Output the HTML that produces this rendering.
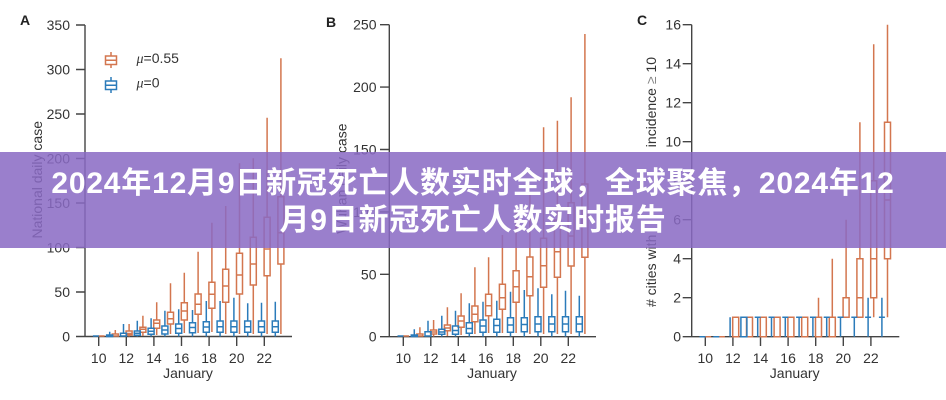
<!DOCTYPE html>
<html><head><meta charset="utf-8">
<style>
html,body{margin:0;padding:0;background:#fff;}
#wrap{position:relative;width:946px;height:400px;overflow:hidden;background:#fff;}
svg{position:absolute;left:0;top:0;}
#banner{position:absolute;left:0;top:152px;width:946px;height:96px;box-sizing:border-box;padding-top:4px;background:rgba(137,106,196,0.86);display:flex;flex-direction:column;align-items:center;justify-content:center;}
#banner div{font-family:"Liberation Sans","Noto Sans CJK SC",sans-serif;font-weight:bold;color:#fff;font-size:30px;line-height:37px;letter-spacing:0.8px;white-space:nowrap;}
</style></head><body>
<div id="wrap">
<svg width="946" height="400" viewBox="0 0 946 400" xmlns="http://www.w3.org/2000/svg" font-family="Liberation Sans, Arial, sans-serif">
<g font-weight="bold" font-size="14" fill="#222">
<text x="20" y="25">A</text>
<text x="326" y="27">B</text>
<text x="637" y="25">C</text>
</g>

<g stroke="#444" stroke-width="1.4" fill="none">
<path d="M85 25V336.5M76 336.5H292"/>
<path d="M76 25H85M76 69.5H85M76 114H85M76 158.5H85M76 203H85M76 247.5H85M76 292H85"/>
<path d="M98.7 336.5V346M126.3 336.5V346M153.9 336.5V346M181.5 336.5V346M209.1 336.5V346M236.7 336.5V346M264.3 336.5V346"/>
<path d="M389.3 24.7V336.7M380 336.7H596"/>
<path d="M380 24.7H389.3M380 87.1H389.3M380 149.5H389.3M380 211.9H389.3M380 274.3H389.3"/>
<path d="M403.3 336.7V346M430.8 336.7V346M458.3 336.7V346M485.8 336.7V346M513.3 336.7V346M540.8 336.7V346M568.3 336.7V346"/>
<path d="M691.7 24.7V336.7M682.7 336.7H899.3"/>
<path d="M682.7 24.7H691.7M682.7 63.7H691.7M682.7 102.7H691.7M682.7 141.7H691.7M682.7 180.7H691.7M682.7 219.7H691.7M682.7 258.7H691.7M682.7 297.7H691.7"/>
<path d="M705.3 336.7V346M732.9 336.7V346M760.5 336.7V346M788.1 336.7V346M815.7 336.7V346M843.3 336.7V346M870.9 336.7V346"/>
</g>

<g font-size="14" fill="#333" text-anchor="end">
<text x="70" y="30">350</text><text x="70" y="74.5">300</text><text x="70" y="119">250</text><text x="70" y="163.5">200</text><text x="70" y="208">150</text><text x="70" y="252.5">100</text><text x="70" y="297">50</text><text x="70" y="341.5">0</text>
<text x="376.5" y="29.7">250</text><text x="376.5" y="92.1">200</text><text x="376.5" y="154.5">150</text><text x="376.5" y="216.9">100</text><text x="376.5" y="279.3">50</text><text x="376.5" y="341.7">0</text>
<text x="681" y="29.7">16</text><text x="681" y="68.7">14</text><text x="681" y="107.7">12</text><text x="681" y="146.7">10</text><text x="681" y="185.7">8</text><text x="681" y="224.7">6</text><text x="681" y="263.7">4</text><text x="681" y="302.7">2</text><text x="681" y="341.7">0</text>
</g>
<g font-size="14" fill="#333" text-anchor="middle">
<text x="98.7" y="363">10</text><text x="126.3" y="363">12</text><text x="153.9" y="363">14</text><text x="181.5" y="363">16</text><text x="209.1" y="363">18</text><text x="236.7" y="363">20</text><text x="264.3" y="363">22</text>
<text x="403.3" y="363">10</text><text x="430.8" y="363">12</text><text x="458.3" y="363">14</text><text x="485.8" y="363">16</text><text x="513.3" y="363">18</text><text x="540.8" y="363">20</text><text x="568.3" y="363">22</text>
<text x="705.3" y="363">10</text><text x="732.9" y="363">12</text><text x="760.5" y="363">14</text><text x="788.1" y="363">16</text><text x="815.7" y="363">18</text><text x="843.3" y="363">20</text><text x="870.9" y="363">22</text>
<text x="188" y="378">January</text>
<text x="492" y="378">January</text>
<text x="794.7" y="378">January</text>
</g>

<g font-size="14" fill="#333">
<text transform="translate(42,121) rotate(-90)" text-anchor="end">National daily case</text>
<text transform="translate(346.7,123.5) rotate(-90)" text-anchor="end">Wuhan daily case</text>
<text transform="translate(656,307) rotate(-90)" text-anchor="start"># cities with</text>
<text transform="translate(656,57) rotate(-90)" text-anchor="end">incidence <tspan fill="#888">≥</tspan> 10</text>
</g>

<g fill="none" stroke-width="1.5">
<path stroke="#d3764f" d="M111 52V56M111 64.5V68M105.5 56H116.5V64.5H105.5ZM105.5 60.3H116.5"/>
<path stroke="#2b7bba" d="M111 77V81M111 89.5V93M105.5 81H116.5V89.5H105.5ZM105.5 85.3H116.5"/>
</g>
<g font-size="14" fill="#333">
<text x="136.5" y="63"><tspan font-style="italic" font-family="Liberation Serif, serif">μ</tspan>=0.55</text>
<text x="136.5" y="87.5"><tspan font-style="italic" font-family="Liberation Serif, serif">μ</tspan>=0</text>
</g>

<path fill="none" stroke="#d3764f" stroke-width="1.5" d="M98.5 336H104.5
M115.3 330V334M112.3 334H118.3V336H112.3Z
M129.1 324V331M126.1 331H132.1V335H126.1ZM126.1 333.5H132.1M129.1 335V336.5
M142.9 315.7V327.3M139.9 327.3H145.9V332.3H139.9ZM139.9 329.3H145.9M142.9 332.3V336
M156.7 302.3V320M153.7 320H159.7V328.3H153.7ZM153.7 323.3H159.7M156.7 328.3V335
M170.5 283.3V312.3M167.5 312.3H173.5V324H167.5ZM167.5 318.7H173.5M170.5 324V334
M184.3 272.7V302.7M181.3 302.7H187.3V320H181.3ZM181.3 311H187.3M184.3 320V333
M198.1 251.7V294M195.1 294H201.1V314.3H195.1ZM195.1 304.3H201.1M198.1 314.3V333
M211.9 222.7V282.3M208.9 282.3H214.9V308.3H208.9ZM208.9 294.3H214.9M211.9 308.3V332
M225.7 206V269.3M222.7 269.3H228.7V302.3H222.7ZM222.7 286H228.7M225.7 302.3V334
M239.5 163.3V253.3M236.5 253.3H242.5V294H236.5ZM236.5 275H242.5M239.5 294V334
M253.3 158.3V237.3M250.3 237.3H256.3V285H250.3ZM250.3 264H256.3M253.3 285V334
M267.1 117.7V217.3M264.1 217.3H270.1V275.7H264.1ZM264.1 249H270.1M267.1 275.7V334
M280.9 58.3V196.7M277.9 196.7H283.9V264H277.9ZM277.9 232.7H283.9M280.9 264V334"/>

<path fill="none" stroke="#2b7bba" stroke-width="1.5" d="M92.9 336H98.9
M109.7 331.7V335M106.7 335H112.7V336.5H106.7Z
M123.5 324V333.3M120.5 333.3H126.5V336H120.5Z
M137.3 320.7V331M134.3 331H140.3V335.3H134.3ZM134.3 333.3H140.3M137.3 335.3V336.5
M151.1 318.3V328.3M148.1 328.3H154.1V334.3H148.1ZM148.1 331.3H154.1M151.1 334.3V336.5
M164.9 310.7V326M161.9 326H167.9V334H161.9ZM161.9 330H167.9M164.9 334V336.5
M178.7 309.3V324M175.7 324H181.7V333.3H175.7ZM175.7 328.5H181.7M178.7 333.3V336.5
M192.5 310V322.7M189.5 322.7H195.5V332.7H189.5ZM189.5 327.5H195.5M192.5 332.7V336.5
M206.3 301V321.7M203.3 321.7H209.3V332.3H203.3ZM203.3 327H209.3M206.3 332.3V336.5
M220.1 301V321M217.1 321H223.1V332.3H217.1ZM217.1 326.7H223.1M220.1 332.3V336.5
M233.9 297.7V321M230.9 321H236.9V332.3H230.9ZM230.9 326.7H236.9M233.9 332.3V336.5
M247.7 303.3V321M244.7 321H250.7V332.3H244.7ZM244.7 326.7H250.7M247.7 332.3V336.5
M261.5 302.7V321M258.5 321H264.5V332.3H258.5ZM258.5 326.7H264.5M261.5 332.3V336.5
M275.3 301.7V321M272.3 321H278.3V332.3H272.3ZM272.3 326.7H278.3M275.3 332.3V336.5"/>

<path fill="none" stroke="#d3764f" stroke-width="1.5" d="M403.1 336H409.1
M419.9 327.3V334M416.9 334H422.9V336H416.9Z
M433.6 320V330M430.6 330H436.6V334H430.6ZM430.6 332H436.6M433.6 334V336.5
M447.4 307.3V325M444.4 325H450.4V330.7H444.4ZM444.4 328H450.4M447.4 330.7V336
M461.1 293.3V316M458.1 316H464.1V327.3H458.1ZM458.1 321H464.1M461.1 327.3V335
M474.9 267.3V306M471.9 306H477.9V321.7H471.9ZM471.9 314.3H477.9M474.9 321.7V334
M488.6 257.3V294.3M485.6 294.3H491.6V315.7H485.6ZM485.6 305.7H491.6M488.6 315.7V333
M502.4 235V284.3M499.4 284.3H505.4V309.3H499.4ZM499.4 297.7H505.4M502.4 309.3V333
M516.1 210V270.7M513.1 270.7H519.1V302.3H513.1ZM513.1 286.7H519.1M516.1 302.3V333
M529.9 195V257M526.9 257H532.9V295.7H526.9ZM526.9 276.7H532.9M529.9 295.7V334
M543.6 127.3V238.3M540.6 238.3H546.6V287.3H540.6ZM540.6 265.7H546.6M543.6 287.3V334
M557.4 120.7V220M554.4 220H560.4V277.3H554.4ZM554.4 251.7H560.4M557.4 277.3V334
M571.1 97.3V202.7M568.1 202.7H574.1V266H568.1ZM568.1 236H574.1M571.1 266V334
M584.9 34V184M581.9 184H587.9V257.3H581.9ZM581.9 216.7H587.9M584.9 257.3V334"/>

<path fill="none" stroke="#2b7bba" stroke-width="1.5" d="M397.5 336H403.5
M414.3 329.3V335M411.3 335H417.3V336.5H411.3Z
M428 320.7V331.7M425 331.7H431V336H425Z
M441.8 315.7V329.3M438.8 329.3H444.8V334.3H438.8ZM438.8 332H444.8M441.8 334.3V336.5
M455.5 310.7V326M452.5 326H458.5V334.3H452.5ZM452.5 330.5H458.5M455.5 334.3V336.5
M469.3 303.3V322.7M466.3 322.7H472.3V333.3H466.3ZM466.3 328.5H472.3M469.3 333.3V336.5
M483 301.7V320M480 320H486V332.3H480ZM480 326H486M483 332.3V336.5
M496.8 300.7V319.3M493.8 319.3H499.8V332.3H493.8ZM493.8 325.5H499.8M496.8 332.3V336.5
M510.5 291.7V317.7M507.5 317.7H513.5V332.3H507.5ZM507.5 325H513.5M510.5 332.3V336.5
M524.3 290V317.7M521.3 317.7H527.3V331.7H521.3ZM521.3 324.5H527.3M524.3 331.7V336.5
M538 288.3V316.7M535 316.7H541V331.7H535ZM535 324H541M538 331.7V336.5
M551.8 294.3V316.7M548.8 316.7H554.8V331.7H548.8ZM548.8 324H554.8M551.8 331.7V336.5
M565.5 290.7V316.7M562.5 316.7H568.5V331.7H562.5ZM562.5 324H568.5M565.5 331.7V336.5
M579.3 295.7V316.7M576.3 316.7H582.3V331.7H576.3ZM576.3 324H582.3M579.3 331.7V336.5"/>

<path fill="none" stroke="#d3764f" stroke-width="1.5" d="M705.1 336.7H711.1
M718.9 336.7H724.9
M732.7 317.2H738.7V336.7H732.7Z
M746.5 317.2H752.5V336.7H746.5Z
M760.3 317.2H766.3V336.7H760.3Z
M774.1 317.2H780.1V336.7H774.1Z
M787.9 317.2H793.9V336.7H787.9Z
M801.7 317.2H807.7V336.7H801.7Z
M815.5 317.2H821.5V336.7H815.5ZM818.5 317.2V297.7
M829.3 317.2H835.3V336.7H829.3ZM832.3 317.2V258.7
M846.1 219.7V297.7M843.1 297.7H849.1V317.2H843.1Z
M859.9 122.2V258.7M856.9 258.7H862.9V317.2H856.9ZM856.9 297.7H862.9
M873.7 44.2V180.7M870.7 180.7H876.7V297.7H870.7ZM870.7 258.7H876.7M873.7 297.7V317.2
M887.5 24.7V122.2M884.5 122.2H890.5V258.7H884.5ZM884.5 200H890.5M887.5 258.7V317.2"/>

<path fill="none" stroke="#2b7bba" stroke-width="1.5" d="M699.5 336.7H705.5
M713.3 336.7H719.3
M730.1 336.7V317.2
M740.9 317.2H746.9V336.7H740.9Z
M757.7 336.7V317.2M754.7 317.2H760.7
M771.5 336.7V317.2M768.5 317.2H774.5
M785.3 336.7V317.2M782.3 317.2H788.3
M799.1 336.7V317.2M796.1 317.2H802.1
M812.9 336.7V317.2M809.9 317.2H815.9
M826.7 336.7V317.2M823.7 317.2H829.7
M840.5 336.7V317.2M837.5 317.2H843.5
M854.3 336.7V317.2M851.3 317.2H857.3
M868.1 336.7V297.7M865.1 317.2H871.1
M881.9 336.7V297.7M878.9 317.2H884.9"/>
</svg>

<div id="banner">
<div>2024年12月9日新冠死亡人数实时全球，全球聚焦，2024年12</div>
<div>月9日新冠死亡人数实时报告</div>
</div>
</div>
</body></html>
